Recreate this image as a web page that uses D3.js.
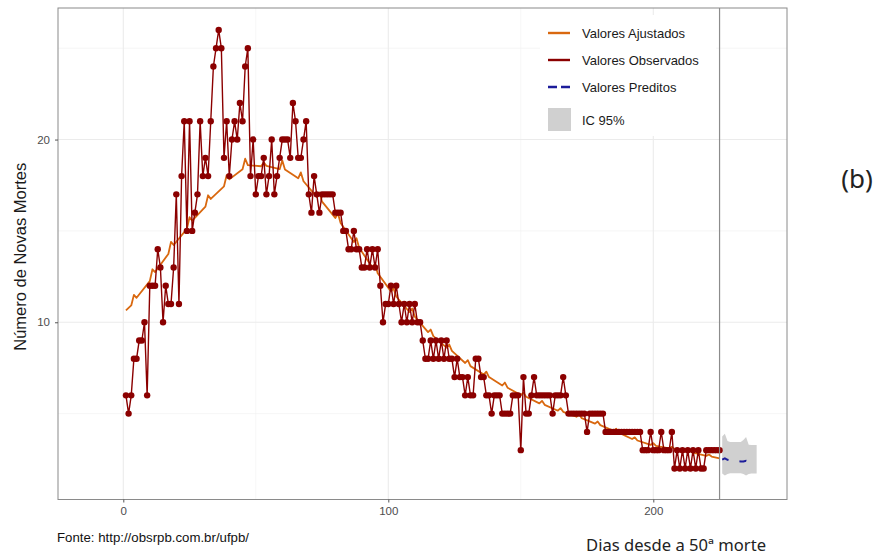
<!DOCTYPE html>
<html>
<head>
<meta charset="utf-8">
<script src="https://cdn.jsdelivr.net/npm/d3@7"></script>
<style>
  body { margin: 0; background: #fff; }
  svg { display: block; }
</style>
</head>
<body>
<svg id="chart" width="880" height="556"></svg>
<script>
// Daily new deaths, day 1 .. 225 after the 50th death
const observedDeaths = [
  6, 5, 6, 8, 8, 9, 9, 10, 6, 12,
  12, 12, 14, 13, 10, 12, 11, 11, 13, 17,
  11, 18, 21, 15, 21, 15, 16, 17, 21, 18,
  19, 18, 21, 24, 25, 26, 25, 19, 21, 18,
  20, 21, 20, 22, 21, 24, 25, 18, 20, 17,
  18, 18, 19, 17, 18, 20, 17, 18, 19, 20,
  20, 20, 19, 22, 21, 19, 19, 20, 21, 17,
  16, 18, 17, 16, 17, 17, 17, 17, 17, 16,
  16, 16, 15, 15, 14, 14, 15, 14, 14, 13,
  13, 14, 13, 14, 13, 14, 12, 10, 11, 11,
  12, 11, 12, 11, 10, 11, 10, 11, 10, 11,
  10, 10, 9, 8, 8, 9, 8, 9, 8, 9,
  8, 9, 8, 8, 7, 8, 7, 7, 6, 7,
  6, 6, 8, 8, 7, 7, 6, 6, 5, 6,
  6, 6, 5, 5, 5, 5, 6, 6, 6, 3,
  7, 5, 5, 6, 7, 6, 6, 6, 6, 6,
  6, 5, 6, 6, 6, 7, 6, 5, 5, 5,
  5, 5, 5, 5, 4, 5, 5, 5, 5, 5,
  5, 4, 4, 4, 4, 4, 4, 4, 4, 4,
  4, 4, 4, 4, 4, 3, 3, 3, 4, 3,
  3, 3, 4, 3, 3, 3, 4, 2, 3, 2,
  3, 2, 3, 2, 3, 2, 3, 2, 2, 3,
  3, 3, 3, 3, 3
];

// Fitted model values (with the weekly reporting bump)
const fittedDays = [
  1, 3, 4, 5, 10, 11, 12, 17, 18, 19, 24, 25, 26, 31, 32, 33, 38, 39, 40,
  45, 46, 47, 52, 53, 54, 59, 60, 61, 66, 67, 68, 73, 74, 75, 80, 81, 82,
  87, 88, 89, 94, 95, 96, 101, 102, 103, 108, 109, 110, 115, 116, 117,
  122, 123, 124, 129, 130, 131, 136, 137, 138, 143, 144, 145, 150, 151, 152,
  157, 158, 159, 164, 165, 166, 171, 172, 173, 178, 179, 180, 185, 186, 187,
  192, 193, 194, 199, 200, 201, 206, 207, 208, 213, 214, 215, 220, 221, 222, 225
];
const fittedValues = [
  10.65, 10.92, 11.5, 11.34, 12.25, 12.9, 12.75, 13.74, 14.4, 14.23,
  15.11, 15.75, 15.56, 16.33, 16.95, 16.75, 17.44, 18.05, 17.82,
  18.37, 18.95, 18.6, 18.54, 18.75, 18.56, 18.38, 18.85, 18.36,
  17.88, 18.2, 17.72, 16.86, 17.1, 16.6, 15.71, 15.95, 15.43,
  14.39, 14.6, 14.08, 13.0, 13.2, 12.68, 11.69, 11.85, 11.41,
  10.56, 10.75, 10.31, 9.46, 9.6, 9.24, 8.61, 8.78, 8.43,
  7.77, 7.93, 7.6, 7.14, 7.3, 7.0, 6.54, 6.7, 6.42, 6.02, 6.15, 5.92,
  5.56, 5.7, 5.48, 5.16, 5.3, 5.1, 4.83, 4.97, 4.75, 4.45, 4.57, 4.37,
  4.06, 4.17, 3.96, 3.61, 3.7, 3.53, 3.29, 3.38, 3.24, 3.1, 3.18, 3.07,
  2.91, 2.98, 2.87, 2.69, 2.76, 2.65, 2.55
];

// Forecast with 95% interval
const predictedDays   = [226, 227, 228, 229, 230, 231, 232, 233, 234, 235, 236, 237, 238, 239];
const predictedValues = [2.48, 2.55, 2.47, 2.44, 2.42, 2.41, 2.40, 2.38, 2.38, 2.42, 2.36, 2.35, 2.34, 2.33];
const ciLower         = [1.72, 1.62, 1.70, 1.74, 1.74, 1.74, 1.74, 1.74, 1.70, 1.62, 1.70, 1.72, 1.72, 1.72];
const ciUpper         = [3.75, 3.90, 3.50, 3.45, 3.45, 3.45, 3.45, 3.45, 3.55, 3.72, 3.30, 3.28, 3.28, 3.28];

const lastObservedDay = 225;

const xMajorTicks = [0, 100, 200];
const xMinorTicks = [50, 150];
const yMajorTicks = [10, 20];
const yMinorTicks = [5, 15, 25];

const legendLabels = ["Valores Ajustados", "Valores Observados", "Valores Preditos", "IC 95%"];

const colObserved = "#8B0000";
const colFitted = "#D9680F";
const colPredicted = "#1C1C9A";
const colBand = "#D0D0D0";

const svg = d3.select("#chart");
svg.append("rect").attr("width", 880).attr("height", 556).attr("fill", "#fff");

const panel = { left: 58, right: 787, top: 8, bottom: 499.5 };

const x = d3.scaleLinear().domain([-24.64, 250.45]).range([panel.left, panel.right]);
const y = d3.scaleLinear().domain([0.3, 27.2]).range([panel.bottom, panel.top]);

// grid
const grid = svg.append("g");
grid.selectAll(".ymin").data(yMinorTicks).join("line")
  .attr("x1", panel.left).attr("x2", panel.right)
  .attr("y1", d => y(d)).attr("y2", d => y(d))
  .attr("stroke", "#F0F0F0").attr("stroke-width", 0.6);
grid.selectAll(".xmin").data(xMinorTicks).join("line")
  .attr("y1", panel.top).attr("y2", panel.bottom)
  .attr("x1", d => x(d)).attr("x2", d => x(d))
  .attr("stroke", "#F0F0F0").attr("stroke-width", 0.6);
grid.selectAll(".ymaj").data(yMajorTicks).join("line")
  .attr("x1", panel.left).attr("x2", panel.right)
  .attr("y1", d => y(d)).attr("y2", d => y(d))
  .attr("stroke", "#EBEBEB").attr("stroke-width", 1.1);
grid.selectAll(".xmaj").data(xMajorTicks).join("line")
  .attr("y1", panel.top).attr("y2", panel.bottom)
  .attr("x1", d => x(d)).attr("x2", d => x(d))
  .attr("stroke", "#EBEBEB").attr("stroke-width", 1.1);

// forecast interval
const bandData = predictedDays.map((d, i) => ({ d, lo: ciLower[i], hi: ciUpper[i] }));
svg.append("path").datum(bandData)
  .attr("fill", colBand)
  .attr("d", d3.area().x(p => x(p.d)).y0(p => y(p.lo)).y1(p => y(p.hi)));

// fitted line
const fittedData = fittedDays.map((d, i) => ({ d, v: fittedValues[i] }));
svg.append("path").datum(fittedData)
  .attr("fill", "none").attr("stroke", colFitted).attr("stroke-width", 1.8)
  .attr("stroke-linejoin", "round")
  .attr("d", d3.line().x(p => x(p.d)).y(p => y(p.v)));

// observed series
const obsData = observedDeaths.map((v, i) => ({ d: i + 1, v }));
svg.append("path").datum(obsData)
  .attr("fill", "none").attr("stroke", colObserved).attr("stroke-width", 1.4)
  .attr("d", d3.line().x(p => x(p.d)).y(p => y(p.v)));
svg.append("g").selectAll("circle").data(obsData).join("circle")
  .attr("cx", p => x(p.d)).attr("cy", p => y(p.v)).attr("r", 3.2)
  .attr("fill", colObserved);

// predicted line
const predData = predictedDays.map((d, i) => ({ d, v: predictedValues[i] }));
svg.append("path").datum(predData)
  .attr("fill", "none").attr("stroke", colPredicted).attr("stroke-width", 2)
  .attr("stroke-dasharray", "7,11")
  .attr("d", d3.line().x(p => x(p.d)).y(p => y(p.v)));

// end of observations
svg.append("line")
  .attr("x1", x(lastObservedDay)).attr("x2", x(lastObservedDay))
  .attr("y1", panel.top).attr("y2", panel.bottom)
  .attr("stroke", "#8C8C8C").attr("stroke-width", 1.2);

// panel border
svg.append("rect")
  .attr("x", panel.left).attr("y", panel.top)
  .attr("width", panel.right - panel.left).attr("height", panel.bottom - panel.top)
  .attr("fill", "none").attr("stroke", "#8A8A8A").attr("stroke-width", 1);

// axes
const xAxis = svg.append("g").attr("transform", `translate(0,${panel.bottom})`)
  .call(d3.axisBottom(x).tickValues(xMajorTicks).tickSize(3).tickPadding(4).tickFormat(d3.format("d")));
const yAxis = svg.append("g").attr("transform", `translate(${panel.left},0)`)
  .call(d3.axisLeft(y).tickValues(yMajorTicks).tickSize(3).tickPadding(5).tickFormat(d3.format("d")));
[xAxis, yAxis].forEach(g => {
  g.select(".domain").remove();
  g.selectAll(".tick line").attr("stroke", "#555");
  g.selectAll(".tick text").attr("fill", "#4D4D4D")
    .style("font-family", "'Liberation Sans', Arial, sans-serif").style("font-size", "11.5px");
});

// axis titles and caption
svg.append("text")
  .attr("transform", `translate(26,${(panel.top + panel.bottom) / 2 + 3}) rotate(-90)`)
  .attr("text-anchor", "middle")
  .style("font-family", "'Liberation Sans', Arial, sans-serif").style("font-size", "16.5px")
  .attr("fill", "#1a1a1a")
  .text("Número de Novas Mortes");

svg.append("text")
  .attr("x", 766).attr("y", 551).attr("text-anchor", "end")
  .style("font-family", "'Noto Sans', sans-serif").style("font-size", "16.6px")
  .attr("fill", "#222")
  .text("Dias desde a 50ª morte");

svg.append("text")
  .attr("x", 57).attr("y", 542)
  .style("font-family", "'Liberation Sans', Arial, sans-serif").style("font-size", "12px")
  .attr("textLength", 192).attr("lengthAdjust", "spacingAndGlyphs")
  .attr("fill", "#111")
  .text("Fonte: http://obsrpb.com.br/ufpb/");

svg.append("text")
  .attr("x", 857).attr("y", 188).attr("text-anchor", "middle")
  .style("font-family", "'Noto Sans', sans-serif").style("font-size", "26px")
  .attr("fill", "#222")
  .text("(b)");

// legend
const lg = svg.append("g");
lg.append("rect").attr("x", 540).attr("y", 15).attr("width", 176).attr("height", 121)
  .attr("fill", "#fff");
const keyX1 = 548, keyX2 = 570, textX = 582;
const rowsY = [33, 60, 87];
const keyStyles = [
  { color: colFitted, dash: null },
  { color: colObserved, dash: null },
  { color: colPredicted, dash: "9,4" }
];
keyStyles.forEach((k, i) => {
  const ln = lg.append("line").attr("x1", keyX1).attr("x2", keyX2)
    .attr("y1", rowsY[i]).attr("y2", rowsY[i])
    .attr("stroke", k.color).attr("stroke-width", 2.4);
  if (k.dash) ln.attr("stroke-dasharray", k.dash);
});
lg.append("rect").attr("x", keyX1).attr("y", 108).attr("width", 23).attr("height", 23)
  .attr("fill", colBand);
const labelY = [rowsY[0], rowsY[1], rowsY[2], 120];
lg.selectAll("text.lab").data(legendLabels).join("text")
  .attr("x", textX).attr("y", (d, i) => labelY[i]).attr("dy", "0.35em")
  .style("font-family", "'Liberation Sans', Arial, sans-serif").style("font-size", "13px")
  .attr("fill", "#1a1a1a")
  .text(d => d);
</script>
</body>
</html>
